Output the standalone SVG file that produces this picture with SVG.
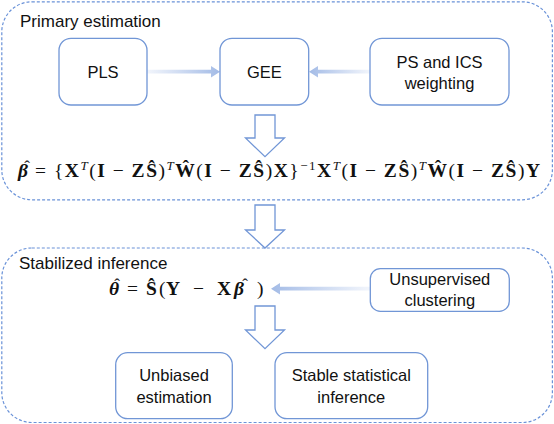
<svg xmlns="http://www.w3.org/2000/svg" width="554" height="424" viewBox="0 0 554 424">
<defs>
<style>
.cont{fill:none;stroke:#6a92d8;stroke-width:1.2;stroke-dasharray:3 2}
.box{fill:#fff;stroke:#7196d6;stroke-width:1.3}
.lbl{font-family:"Liberation Sans",Arial,sans-serif;font-size:16.5px;fill:#111;text-anchor:middle}
.hdr{font-family:"Liberation Sans",Arial,sans-serif;font-size:17px;fill:#111}
.math{font-family:"Liberation Serif","DejaVu Serif",serif;font-size:19.5px;fill:#111}
.hat{font-size:17px;font-style:normal;font-weight:normal;text-anchor:middle}
.b{font-weight:bold}
.sup{font-size:13px}
.hollow{fill:#fff;stroke:#7196d6;stroke-width:1.3;stroke-linejoin:miter}
</style>
<linearGradient id="gR" x1="0" y1="0" x2="1" y2="0">
<stop offset="0" stop-color="#a9bfe8" stop-opacity="0.15"/>
<stop offset="1" stop-color="#a3bbe6"/>
</linearGradient>
<linearGradient id="gL" x1="1" y1="0" x2="0" y2="0">
<stop offset="0" stop-color="#a9bfe8" stop-opacity="0.15"/>
<stop offset="1" stop-color="#a3bbe6"/>
</linearGradient>
</defs>
<rect width="554" height="424" fill="#fff"/>

<g id="primary-estimation">
<rect class="cont" x="1.8" y="1.8" width="550.6" height="198" rx="30"/>
<text class="hdr" x="20" y="27">Primary estimation</text>
</g>

<g id="stabilized-inference">
<rect class="cont" x="1.8" y="248" width="550.6" height="174.5" rx="30"/>
<text class="hdr" x="19" y="269">Stabilized inference</text>
</g>

<g id="connectors">
<polygon fill="url(#gR)" points="147,69.8 211,69.8 211,66 220,71.7 211,77.4 211,73.6 147,73.6"/>
<polygon fill="url(#gL)" points="370,69.8 318,69.8 318,66 309,71.7 318,77.4 318,73.6 370,73.6"/>
<polygon fill="url(#gL)" points="370,286.8 280,286.8 280,283 271,288.7 280,294.4 280,290.6 370,290.6"/>
<polygon class="hollow" points="255,115 275,115 275,138 284.5,138 265,156.7 245.5,138 255,138"/>
<polygon class="hollow" points="255,205 275,205 275,230 284.5,230 265,248 245.5,230 255,230"/>
<polygon class="hollow" points="255,306 275,306 275,330 284.5,330 265,348.7 245.5,330 255,330"/>
</g>

<g id="pls">
<rect class="box" x="59" y="38.3" width="88" height="66.7" rx="12"/>
<text class="lbl" x="103" y="78">PLS</text>
</g>
<g id="gee">
<rect class="box" x="220" y="38.3" width="88.7" height="66.7" rx="12"/>
<text class="lbl" x="264.4" y="78">GEE</text>
</g>
<g id="ps-ics">
<rect class="box" x="370" y="38.3" width="139" height="66.7" rx="12"/>
<text class="lbl" x="439.5" y="67.5">PS and ICS</text>
<text class="lbl" x="439.5" y="89">weighting</text>
</g>

<g id="beta-formula">
<text class="math" x="18" y="177"><tspan class="b" font-style="italic">β</tspan><tspan class="hat" x="27" y="172">ˆ</tspan></text>
<text class="math" x="35" y="177" textLength="505" lengthAdjust="spacing">= {<tspan class="b">X</tspan><tspan class="sup" font-style="italic" dy="-7.5">T</tspan><tspan dy="7.5">(</tspan><tspan class="b">I</tspan> − <tspan class="b">ZŜ</tspan>)<tspan class="sup" font-style="italic" dy="-7.5">T</tspan><tspan class="b" dy="7.5">Ŵ</tspan>(<tspan class="b">I</tspan> − <tspan class="b">ZŜ</tspan>)<tspan class="b">X</tspan>}<tspan class="sup" dy="-7.5">−1</tspan><tspan class="b" dy="7.5">X</tspan><tspan class="sup" font-style="italic" dy="-7.5">T</tspan><tspan dy="7.5">(</tspan><tspan class="b">I</tspan> − <tspan class="b">ZŜ</tspan>)<tspan class="sup" font-style="italic" dy="-7.5">T</tspan><tspan class="b" dy="7.5">Ŵ</tspan>(<tspan class="b">I</tspan> − <tspan class="b">ZŜ</tspan>)<tspan class="b">Y</tspan></text>
</g>

<g id="theta-formula">
<text class="math" y="295.3" font-size="20.5"><tspan class="b" font-style="italic" x="109">θ</tspan><tspan class="hat" x="117" y="290">ˆ</tspan><tspan x="127" y="295.3">=</tspan><tspan class="b" x="146">Ŝ</tspan><tspan x="159">(</tspan><tspan class="b" x="166">Y</tspan><tspan x="193">−</tspan><tspan class="b" x="217">X</tspan><tspan class="b" font-style="italic" x="234">β</tspan><tspan class="hat" x="245" y="290">ˆ</tspan><tspan x="257" y="295.3">)</tspan></text>
</g>

<g id="unsupervised">
<rect class="box" x="370.3" y="268.7" width="139" height="42.6" rx="10"/>
<text class="lbl" x="439.8" y="284.7">Unsupervised</text>
<text class="lbl" x="439.8" y="306">clustering</text>
</g>

<g id="unbiased">
<rect class="box" x="115.7" y="352.7" width="116.6" height="66" rx="12"/>
<text class="lbl" x="174" y="381.3">Unbiased</text>
<text class="lbl" x="174" y="402.7">estimation</text>
</g>

<g id="stable">
<rect class="box" x="275" y="352.7" width="152.7" height="66" rx="12"/>
<text class="lbl" x="351.3" y="381.3">Stable statistical</text>
<text class="lbl" x="351.3" y="402.7">inference</text>
</g>
</svg>
